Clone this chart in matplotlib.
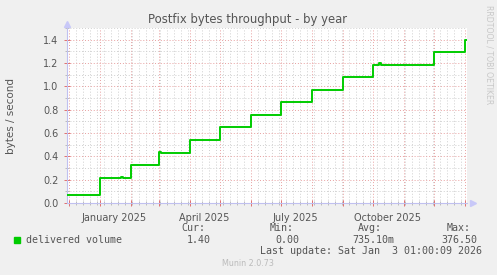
import matplotlib
matplotlib.use("Agg")
import matplotlib.pyplot as plt
import matplotlib.dates as mdates
from matplotlib.patches import Rectangle
from datetime import datetime, timedelta

# step changes of the "delivered volume" series (bytes / second)
step_dates = ["2024-11-29", "2025-01-01", "2025-01-22", "2025-01-24", "2025-02-01",
              "2025-03-01", "2025-03-03", "2025-04-01", "2025-05-01", "2025-06-01",
              "2025-07-01", "2025-08-01", "2025-09-01", "2025-10-01", "2025-10-07",
              "2025-10-09", "2025-12-01", "2026-01-01", "2026-01-04"]
step_values = [0.066, 0.212, 0.222, 0.212, 0.324,
               0.440, 0.427, 0.539, 0.653, 0.753,
               0.865, 0.968, 1.080, 1.186, 1.198,
               1.183, 1.295, 1.400, 1.400]

x_labels = ["January 2025", "April 2025", "July 2025", "October 2025"]
x_label_dates = ["2025-01-16", "2025-04-16", "2025-07-16", "2025-10-16"]
y_ticks = [0.0, 0.2, 0.4, 0.6, 0.8, 1.0, 1.2, 1.4]

W, H = 497, 275
def fx(x): return x / W
def fy(y): return 1 - y / H

fig = plt.figure(figsize=(W / 100, H / 100), dpi=100, facecolor="#f0f0f0")
ax = fig.add_axes([fx(67), fy(203), 400 / W, 175 / H], facecolor="white")

t_end = datetime(2026, 1, 3, 12)
t_start = t_end - timedelta(days=400)
dates = [datetime.strptime(d, "%Y-%m-%d") for d in step_dates]
ax.plot(dates, step_values, drawstyle="steps-post", color="#00cc00", lw=1.4, zorder=5)
ax.set_xlim(t_start, t_end)
ax.set_ylim(0, 1.5)

# grid: months red, weeks gray, like rrdtool
red = "#e8a0a0"
gray = "#cfcfcf"
dot = (0, (1, 2))
ax.xaxis.set_major_locator(mdates.MonthLocator())
ax.xaxis.set_minor_locator(mdates.WeekdayLocator(byweekday=mdates.SU))
ax.yaxis.set_major_locator(plt.FixedLocator(y_ticks))
ax.yaxis.set_minor_locator(plt.MultipleLocator(0.1))
ax.grid(which="minor", color=gray, lw=0.7, ls=dot)
ax.grid(which="major", color=red, lw=0.7, ls=dot)
ax.set_axisbelow(True)
ax.tick_params(which="major", direction="inout", length=4, width=0.7, color="#e07070",
               labelsize=7, labelcolor="#555555", pad=4)
ax.tick_params(which="minor", direction="inout", length=3, width=0.7, color="#bbbbbb")
ax.set_xticklabels([])
ax.set_yticklabels(["%.1f" % v for v in y_ticks])

for lab, d in zip(x_labels, x_label_dates):
    ax.text(datetime.strptime(d, "%Y-%m-%d"), -0.055, lab, transform=ax.get_xaxis_transform(),
            ha="center", va="top", fontsize=7, color="#555555")

for s in ["top", "right"]:
    ax.spines[s].set_visible(False)
for s in ["left", "bottom"]:
    ax.spines[s].set_color("#c0c0f0")
    ax.spines[s].set_linewidth(0.8)
ax.plot([0], [1.025], marker="^", ms=4, color="#c8c8f8", transform=ax.transAxes, clip_on=False)
ax.plot([1.015], [0], marker=">", ms=4, color="#c8c8f8", transform=ax.transAxes, clip_on=False)

ax.set_ylabel("bytes / second", fontsize=7.5, color="#555555")
ax.yaxis.set_label_coords(-0.128, 0.5)

fig.text(fx(248), fy(19), "Postfix bytes throughput - by year", ha="center", va="center",
         fontsize=8.4, color="#555555")
fig.text(fx(489), fy(5), "RRDTOOL / TOBI OETIKER", rotation=270, ha="center", va="top",
         fontsize=5.6, color="#c8c8c8")

mono = dict(family="DejaVu Sans Mono", fontsize=7.2, color="#555555", va="center")
fig.patches.append(Rectangle((fx(14), fy(243)), 6 / W, 6 / H, transform=fig.transFigure,
                             color="#00cc00"))
fig.text(fx(26), fy(240), "delivered volume", ha="left", **mono)
for name, x0 in [("Cur:", 181), ("Min:", 270), ("Avg:", 358), ("Max:", 447)]:
    fig.text(fx(x0), fy(228), name, ha="left", **mono)
for val, x1 in [("1.40", 211), ("0.00", 299), ("735.10m", 394), ("376.50", 477)]:
    fig.text(fx(x1), fy(240), val, ha="right", **mono)
fig.text(fx(482), fy(251), "Last update: Sat Jan  3 01:00:09 2026", ha="right", **mono)
fig.text(fx(248), fy(264), "Munin 2.0.73", ha="center", va="center", fontsize=5.8, color="#bbbbbb")

fig.savefig("out.png", dpi=100, facecolor=fig.get_facecolor())
